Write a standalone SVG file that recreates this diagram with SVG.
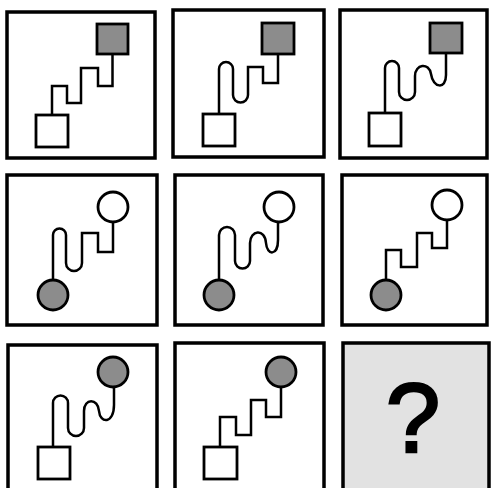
<svg xmlns="http://www.w3.org/2000/svg" width="491" height="488" viewBox="0 0 491 488">
<style>
.frame{fill:#fff;stroke:#000;stroke-width:3.5}
.ans{fill:#e2e2e2;stroke:#000;stroke-width:3.5}
.wbox{fill:#fff;stroke:#000;stroke-width:2.8}
.gbox{fill:#8c8c8c;stroke:#000;stroke-width:2.8}
.wire{fill:none;stroke:#000;stroke-width:2.5;stroke-linejoin:miter}
.q{font-family:"Liberation Sans",Arial,sans-serif;font-size:98px;fill:#000;stroke:#000;stroke-width:2.5;text-anchor:middle}
</style>
<rect width="491" height="488" fill="#fff"/>
<g id="cell1">
<rect class="frame" x="7" y="12" width="148" height="146"/>
<rect class="gbox" x="97" y="24" width="31" height="30"/>
<rect class="wbox" x="36" y="115" width="32" height="32"/>
</g>
<g id="cell2">
<rect class="frame" x="173" y="10" width="151" height="147"/>
<rect class="gbox" x="262" y="23" width="32" height="31"/>
<rect class="wbox" x="203" y="114" width="32" height="32"/>
</g>
<g id="cell3">
<rect class="frame" x="340" y="10" width="147" height="148"/>
<rect class="gbox" x="430" y="23" width="32" height="30"/>
<rect class="wbox" x="369" y="113" width="32" height="33"/>
</g>
<g id="cell4">
<rect class="frame" x="7" y="175" width="150" height="150"/>
<circle class="wbox" cx="113" cy="207" r="15"/>
<circle class="gbox" cx="53" cy="295" r="15"/>
</g>
<g id="cell5">
<rect class="frame" x="175" y="175" width="148" height="150"/>
<circle class="wbox" cx="279" cy="207" r="15"/>
<circle class="gbox" cx="219" cy="295" r="15"/>
</g>
<g id="cell6">
<rect class="frame" x="342" y="175" width="145" height="150"/>
<circle class="wbox" cx="447" cy="205" r="15"/>
<circle class="gbox" cx="386" cy="295" r="15"/>
</g>
<g id="cell7">
<rect class="frame" x="8" y="345" width="149" height="150"/>
<circle class="gbox" cx="113" cy="372" r="15"/>
<rect class="wbox" x="38" y="447" width="32" height="32"/>
</g>
<g id="cell8">
<rect class="frame" x="175" y="343" width="149" height="152"/>
<circle class="gbox" cx="281" cy="372" r="15"/>
<rect class="wbox" x="204" y="447" width="33" height="32"/>
</g>
<g id="cell9">
<rect class="ans" x="343" y="343" width="146" height="152"/>
<text class="q" x="413" y="452">?</text>
</g>
<g id="connectors">
<path class="wire" d="M52,115 V86 H67 V103 H81 V68 H98 V86 H112.5 V54"/>
<path class="wire" d="M219,114 V69 A7,7 0 0 1 233,69 V95 A7.5,7.5 0 0 0 248,95 V67 H263 V83 H278 V54"/>
<path class="wire" d="M385,113 V68 A7,7 0 0 1 399,68 V92 A8,8 0 0 0 415,92 V76 C415,64 429,62 431,74 C433,88 446,90 446,75 V53"/>
<path class="wire" d="M53,280 V235 A6.5,6.5 0 0 1 66,235 V263 A8,8 0 0 0 82,263 V233 H98 V252 H113 V222"/>
<path class="wire" d="M219,280 V235 A8,8 0 0 1 235,235 V261 A7.5,7.5 0 0 0 250,261 V243 C250,230 265,228 266,243 C267,256 278,256 278,240 V222"/>
<path class="wire" d="M386,280 V250 H401 V267 H417 V233 H432 V248 H447 V220"/>
<path class="wire" d="M53,447 V403 A7.5,7.5 0 0 1 68,403 V428 A8,8 0 0 0 84,428 V411 C84,398 98,398 99,411 C100,424 114,424 114,405 V387"/>
<path class="wire" d="M220,447 V417 H236 V435 H251 V400 H266 V417 H281 V387"/>
</g>
</svg>
